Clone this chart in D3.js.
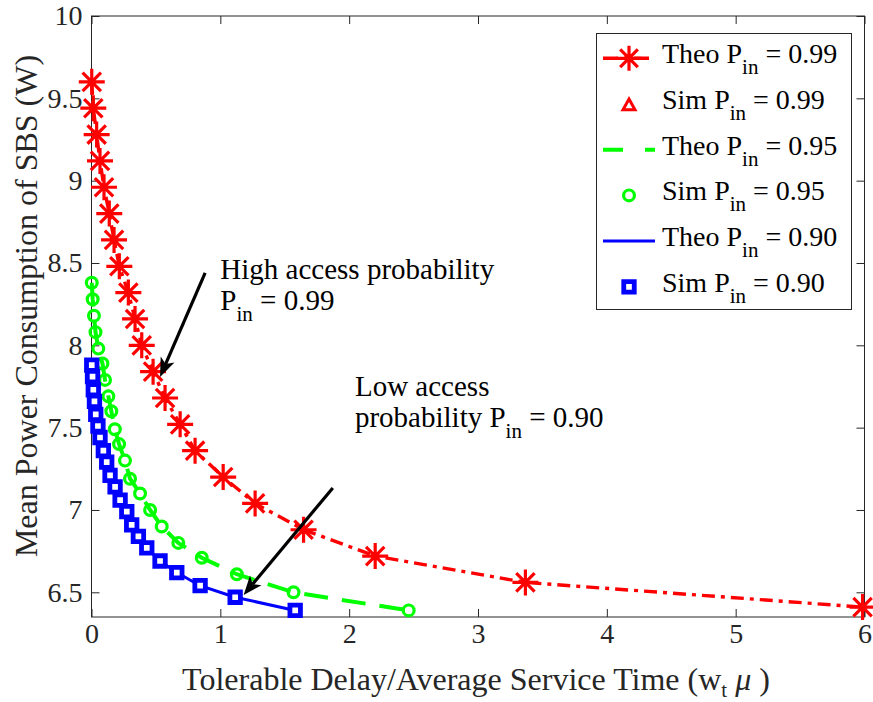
<!DOCTYPE html>
<html>
<head>
<meta charset="utf-8">
<script src="https://cdn.jsdelivr.net/npm/d3@7"></script>
<style>
  body { margin: 0; background: #ffffff; }
  text { font-family: "Liberation Serif", "Times New Roman", serif; white-space: pre; }
</style>
</head>
<body>
<svg id="chart" width="873" height="702"></svg>
<script>
// ---- data ----
const xTicks = [0, 1, 2, 3, 4, 5, 6];
const yTicks = [6.5, 7, 7.5, 8, 8.5, 9, 9.5, 10];

// theoretical curve, access probability 0.99
const redX = [0.002, 0.014, 0.040, 0.066, 0.097, 0.138, 0.175, 0.216, 0.286, 0.338, 0.390,
              0.478, 0.571, 0.688, 0.804, 1.022, 1.270, 1.646, 2.202, 3.368, 5.985];
const redY = [9.60, 9.44, 9.28, 9.12, 8.96, 8.80, 8.64, 8.48, 8.32, 8.16, 8.00,
              7.84, 7.68, 7.52, 7.36, 7.20, 7.04, 6.88, 6.72, 6.56, 6.41];

// access probability 0.95
const greenX = [0.002, 0.009, 0.019, 0.031, 0.053, 0.085, 0.105, 0.131, 0.154, 0.181, 0.214,
                0.260, 0.299, 0.377, 0.455, 0.545, 0.674, 0.856, 1.128, 1.568, 2.462];
const greenY = [8.38, 8.28, 8.18, 8.08, 7.98, 7.89, 7.79, 7.69, 7.60, 7.49, 7.40,
                7.30, 7.19, 7.10, 7.00, 6.90, 6.80, 6.71, 6.61, 6.50, 6.39];

// access probability 0.90
const blueX = [0.002, 0.008, 0.014, 0.023, 0.033, 0.050, 0.066, 0.092, 0.118, 0.144, 0.183,
               0.222, 0.274, 0.312, 0.364, 0.429, 0.532, 0.662, 0.843, 1.115, 1.581];
const blueY = [7.88, 7.81, 7.73, 7.66, 7.58, 7.51, 7.44, 7.36, 7.29, 7.21, 7.14,
               7.06, 6.99, 6.91, 6.84, 6.77, 6.69, 6.62, 6.54, 6.47, 6.39];

const legendKind = ["Theo", "Sim", "Theo", "Sim", "Theo", "Sim"];
const legendP = ["0.99", "0.99", "0.95", "0.95", "0.90", "0.90"];

// ---- setup ----
const svg = d3.select("#chart");
const RED = "#ff0000", GREEN = "#00ff00", BLUE = "#0000ff", AX = "#262626";

const x = d3.scaleLinear().domain([0, 6]).range([91.5, 864.5]);
const y = d3.scaleLinear().domain([6.35, 10]).range([617, 16]);
const [x0, x1] = x.range();
const [y0, y1] = y.range();

// axes box
svg.append("rect")
  .attr("x", x0).attr("y", y1)
  .attr("width", x1 - x0).attr("height", y0 - y1)
  .attr("fill", "#fff").attr("stroke", AX).attr("stroke-width", 1);

function styleAxis(g, withText) {
  g.select(".domain").remove();
  g.selectAll(".tick line").attr("stroke", AX).attr("stroke-width", 1);
  if (withText) {
    g.selectAll(".tick text").attr("fill", AX).style("font-size", "28px")
      .style("font-family", "'Liberation Serif', 'Times New Roman', serif");
  } else {
    g.selectAll(".tick text").remove();
  }
}

svg.append("g").attr("transform", `translate(0,${y0})`)
  .call(d3.axisBottom(x).tickValues(xTicks).tickSizeInner(-8).tickSizeOuter(0)
        .tickPadding(6).tickFormat(d3.format("d")))
  .call(g => styleAxis(g, true));
svg.append("g").attr("transform", `translate(0,${y1})`)
  .call(d3.axisTop(x).tickValues(xTicks).tickSizeInner(-8).tickSizeOuter(0))
  .call(g => styleAxis(g, false));
svg.append("g").attr("transform", `translate(${x0},0)`)
  .call(d3.axisLeft(y).tickValues(yTicks).tickSizeInner(-8).tickSizeOuter(0)
        .tickPadding(9).tickFormat(d => String(d)))
  .call(g => styleAxis(g, true));
svg.append("g").attr("transform", `translate(${x1},0)`)
  .call(d3.axisRight(y).tickValues(yTicks).tickSizeInner(-8).tickSizeOuter(0))
  .call(g => styleAxis(g, false));

// axis titles
const xl = svg.append("text")
  .attr("x", (x0 + x1) / 2 - 2).attr("y", 690)
  .attr("text-anchor", "middle").style("font-size", "32px").attr("fill", AX);
xl.append("tspan").text("Tolerable Delay/Average Service Time (w");
xl.append("tspan").attr("dy", 7).style("font-size", "21px").text("t");
xl.append("tspan").attr("dy", -7).text(" ");
xl.append("tspan").style("font-style", "italic").text("μ");
xl.append("tspan").text(" )");

svg.append("text")
  .attr("transform", "translate(37,306) rotate(-90)")
  .attr("text-anchor", "middle").style("font-size", "32px").attr("fill", AX)
  .text("Mean Power Consumption of SBS (W)");

// ---- markers ----
function starPath(r) {
  const d = r * Math.SQRT1_2;
  return `M${-r},0L${r},0M0,${-r}L0,${r}M${-d},${-d}L${d},${d}M${-d},${d}L${d},${-d}`;
}
function squarePath(s) {
  const h = s / 2;
  return `M${-h},${-h}H${h}V${h}H${-h}Z`;
}
function trianglePath(s) {
  const h = s / 2;
  return `M0,${-h}L${h},${h * 0.8}L${-h},${h * 0.8}Z`;
}

const line = d3.line().x(d => x(d[0])).y(d => y(d[1]));
const redData = d3.zip(redX, redY);
const greenData = d3.zip(greenX, greenY);
const blueData = d3.zip(blueX, blueY);

// P_in = 0.99 : dash-dot line with star markers
svg.append("path").datum(redData).attr("d", line)
  .attr("fill", "none").attr("stroke", RED).attr("stroke-width", 3.4)
  .attr("stroke-dasharray", "13,6,4,6");
svg.append("g").selectAll("path").data(redData).join("path")
  .attr("transform", d => `translate(${x(d[0])},${y(d[1])})`)
  .attr("d", starPath(13)).attr("fill", "none")
  .attr("stroke", RED).attr("stroke-width", 3.2);

// P_in = 0.95 : dashed line with circle markers
svg.append("path").datum(greenData).attr("d", line)
  .attr("fill", "none").attr("stroke", GREEN).attr("stroke-width", 4)
  .attr("stroke-dasharray", "24,14");
svg.append("g").selectAll("circle").data(greenData).join("circle")
  .attr("cx", d => x(d[0])).attr("cy", d => y(d[1])).attr("r", 5.4)
  .attr("fill", "none").attr("stroke", GREEN).attr("stroke-width", 3.2);

// P_in = 0.90 : solid line with square markers
svg.append("path").datum(blueData).attr("d", line)
  .attr("fill", "none").attr("stroke", BLUE).attr("stroke-width", 3);
svg.append("g").selectAll("path").data(blueData).join("path")
  .attr("transform", d => `translate(${x(d[0])},${y(d[1])})`)
  .attr("d", squarePath(10.5)).attr("fill", "#fff")
  .attr("stroke", BLUE).attr("stroke-width", 4.8);

// ---- annotations ----
function arrow(xa, ya, xb, yb) {
  const sx = x(xa), sy = y(ya), tx = x(xb), ty = y(yb);
  const len = Math.hypot(tx - sx, ty - sy);
  const ux = (tx - sx) / len, uy = (ty - sy) / len;
  const nx = -uy, ny = ux;
  const L = 19, W = 7.5, notch = 5;
  const bx = tx - L * ux, by = ty - L * uy;
  const mx = tx - (L - notch) * ux, my = ty - (L - notch) * uy;
  svg.append("line").attr("x1", sx).attr("y1", sy).attr("x2", mx).attr("y2", my)
    .attr("stroke", "#000").attr("stroke-width", 3.2);
  svg.append("path")
    .attr("d", `M${tx},${ty}L${bx + W * nx},${by + W * ny}L${mx},${my}L${bx - W * nx},${by - W * ny}Z`)
    .attr("fill", "#000");
}
arrow(0.882, 8.44, 0.532, 7.808);
arrow(1.873, 7.134, 1.181, 6.484);

function annot(xv, yv, lines) {
  const t = svg.append("text").attr("x", x(xv)).attr("y", y(yv))
    .style("font-size", "29px").attr("fill", "#000");
  lines.forEach((ln, i) => {
    t.append("tspan").attr("x", x(xv)).attr("dy", i === 0 ? 0 : 31).text(ln.text);
    if (ln.sub) {
      t.append("tspan").attr("dy", 11).style("font-size", "21px").text(ln.sub);
      t.append("tspan").attr("dy", -11).text(ln.after);
    }
  });
}
annot(1.0, 8.40, [{ text: "High access probability" }, { text: "P", sub: "in", after: " = 0.99" }]);
annot(2.045, 7.69, [{ text: "Low access" }, { text: "probability P", sub: "in", after: " = 0.90" }]);

// ---- legend ----
const lg = svg.append("g");
lg.append("rect").attr("x", 596.5).attr("y", 33.5).attr("width", 255).attr("height", 276)
  .attr("fill", "#fff").attr("stroke", AX).attr("stroke-width", 1);

const rowY = i => 58.3 + i * 45.7;
const sampleX0 = 603, sampleX1 = 655, markX = 629;

legendKind.forEach((kind, i) => {
  const cy = rowY(i);
  if (i === 0) {
    lg.append("line").attr("x1", sampleX0).attr("x2", sampleX1).attr("y1", cy).attr("y2", cy)
      .attr("stroke", RED).attr("stroke-width", 3.4).attr("stroke-dasharray", "15,6,4,6");
    lg.append("path").attr("transform", `translate(${markX},${cy})`).attr("d", starPath(12.5))
      .attr("fill", "none").attr("stroke", RED).attr("stroke-width", 3.2);
  } else if (i === 1) {
    lg.append("path").attr("transform", `translate(${markX},${cy + 1})`).attr("d", trianglePath(12))
      .attr("fill", "#fff").attr("stroke", RED).attr("stroke-width", 3);
  } else if (i === 2) {
    lg.append("line").attr("x1", sampleX0).attr("x2", sampleX1).attr("y1", cy).attr("y2", cy)
      .attr("stroke", GREEN).attr("stroke-width", 4).attr("stroke-dasharray", "20,22");
  } else if (i === 3) {
    lg.append("circle").attr("cx", markX).attr("cy", cy).attr("r", 5.4)
      .attr("fill", "none").attr("stroke", GREEN).attr("stroke-width", 3.2);
  } else if (i === 4) {
    lg.append("line").attr("x1", sampleX0).attr("x2", sampleX1).attr("y1", cy).attr("y2", cy)
      .attr("stroke", BLUE).attr("stroke-width", 3);
  } else {
    lg.append("path").attr("transform", `translate(${markX},${cy})`).attr("d", squarePath(10.5))
      .attr("fill", "#fff").attr("stroke", BLUE).attr("stroke-width", 4.8);
  }
  const t = lg.append("text").attr("x", 662).attr("y", cy + 5)
    .style("font-size", "28px").attr("fill", "#000");
  t.append("tspan").text(kind + " P");
  t.append("tspan").attr("dy", 11).style("font-size", "21px").text("in");
  t.append("tspan").attr("dy", -11).text(" = " + legendP[i]);
});
</script>
</body>
</html>
